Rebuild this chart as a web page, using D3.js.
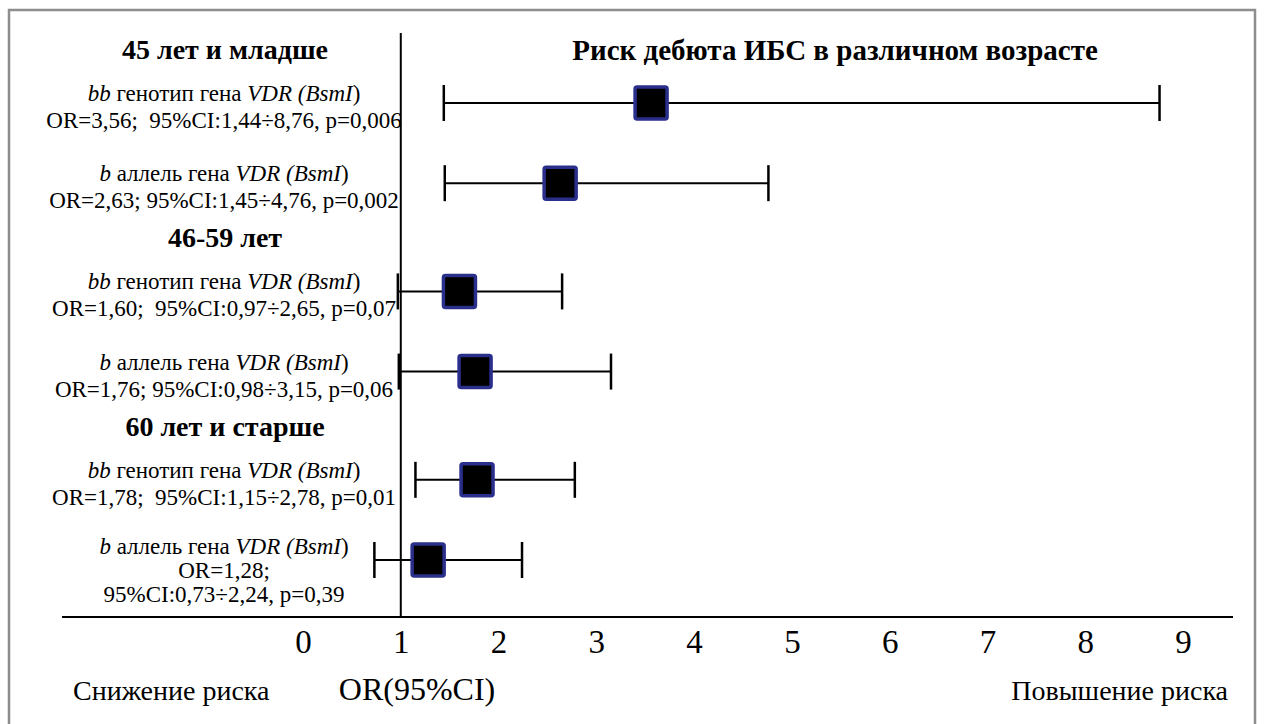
<!DOCTYPE html>
<html>
<head>
<meta charset="utf-8">
<script src="https://cdn.jsdelivr.net/npm/d3@7"></script>
<style>
  html, body { margin: 0; padding: 0; background: #fff; }
  svg { display: block; }
</style>
</head>
<body>
<svg id="chart" width="1264" height="724"></svg>
<script>
// Forest plot: risk of coronary heart disease onset by age group, VDR (BsmI)
const chartTitle = "Риск дебюта ИБС в различном возрасте";
const ageGroups = ["45 лет и младше", "46-59 лет", "60 лет и старше"];
const rowGroup = [0, 0, 1, 1, 2, 2];
const rowVariant = ["bb", "b", "bb", "b", "bb", "b"];
const rowKind = ["генотип", "аллель", "генотип", "аллель", "генотип", "аллель"];
const oddsRatio = [3.56, 2.63, 1.60, 1.76, 1.78, 1.28];
const ciLower = [1.44, 1.45, 0.97, 0.98, 1.15, 0.73];
const ciUpper = [8.76, 4.76, 2.65, 3.15, 2.78, 2.24];
const pValue = [0.006, 0.002, 0.07, 0.06, 0.01, 0.39];
const xTicks = [0, 1, 2, 3, 4, 5, 6, 7, 8, 9];
const axisNotes = ["Снижение риска", "OR(95%CI)", "Повышение риска"];

const serif = "Liberation Serif";
const svg = d3.select("#chart").attr("font-family", serif);
const comma = s => s.replace(".", ",");
const f2 = v => comma(d3.format(".2f")(v));
const fp = v => comma(String(v));

// outer frame
svg.append("rect")
  .attr("x", 9).attr("y", 10)
  .attr("width", 1246).attr("height", 740)
  .attr("fill", "none").attr("stroke", "#8d8d8d").attr("stroke-width", 2.5);

// scales
const x = d3.scaleLinear().domain([0, 9]).range([303, 1183]);
const groupGap = 0.35;
const slot = i => i + groupGap * rowGroup[i];
const y = d3.scaleLinear().domain([0, slot(oddsRatio.length - 1)]).range([103, 560]);
const axisY = 617;
const labelX = 224;

// baseline axis and OR = 1 reference line
svg.append("line")
  .attr("x1", 62).attr("x2", 1233).attr("y1", axisY).attr("y2", axisY)
  .attr("stroke", "#000").attr("stroke-width", 2);
svg.append("line")
  .attr("x1", x(1)).attr("x2", x(1)).attr("y1", 33).attr("y2", axisY)
  .attr("stroke", "#000").attr("stroke-width", 2);

// tick labels
const axis = svg.append("g")
  .attr("transform", `translate(0,${axisY})`)
  .call(d3.axisBottom(x).tickValues(xTicks).tickSize(0).tickPadding(12.5).tickFormat(d3.format("d")));
axis.attr("font-family", serif).attr("font-size", 33);
axis.select(".domain").remove();
axis.selectAll("text").attr("fill", "#000");

// title
svg.append("text")
  .attr("x", 835).attr("y", 60)
  .attr("text-anchor", "middle")
  .attr("font-size", 29).attr("font-weight", "bold")
  .text(chartTitle);

// age-group headings
ageGroups.forEach((g, gi) => {
  const first = rowGroup.indexOf(gi);
  svg.append("text")
    .attr("x", labelX + 1).attr("y", y(slot(first)) - 44)
    .attr("text-anchor", "middle")
    .attr("font-size", 28).attr("font-weight", "bold")
    .text(g);
});

// rows: label, CI whisker, OR square
const rows = oddsRatio.map((or, i) => ({
  i, or, lo: ciLower[i], hi: ciUpper[i], p: pValue[i],
  variant: rowVariant[i], kind: rowKind[i], yc: y(slot(i))
}));

rows.forEach(r => {
  const last = r.i === rows.length - 1;
  const top = last ? r.yc - 6 : r.yc - 2;
  const t = svg.append("text")
    .attr("text-anchor", "middle")
    .attr("font-size", 23)
    .style("white-space", "pre");
  const first = t.append("tspan").attr("x", labelX).attr("y", top);
  first.append("tspan").attr("font-style", "italic").text(r.variant);
  first.append("tspan").text(` ${r.kind} гена `);
  first.append("tspan").attr("font-style", "italic").text("VDR (BsmI");
  first.append("tspan").text(")");

  const orPart = `OR=${f2(r.or)};`;
  const ciPart = `95%CI:${f2(r.lo)}÷${f2(r.hi)}, p=${fp(r.p)}`;
  const sep = r.variant === "bb" ? "  " : " ";
  const lines = last ? [orPart, ciPart] : [orPart + sep + ciPart];
  const lh = last ? 24 : 27;
  lines.forEach((ln, k) => {
    t.append("tspan").attr("x", labelX).attr("y", top + lh * (k + 1)).text(ln);
  });

  const g = svg.append("g");
  g.append("line")
    .attr("x1", x(r.lo)).attr("x2", x(r.hi)).attr("y1", r.yc).attr("y2", r.yc)
    .attr("stroke", "#000").attr("stroke-width", 2);
  [r.lo, r.hi].forEach(v => {
    g.append("line")
      .attr("x1", x(v)).attr("x2", x(v)).attr("y1", r.yc - 18).attr("y2", r.yc + 18)
      .attr("stroke", "#000").attr("stroke-width", 2.5);
  });
  g.append("rect")
    .attr("x", x(r.or) - 16).attr("y", r.yc - 16)
    .attr("width", 32).attr("height", 32)
    .attr("rx", 2)
    .attr("fill", "#000").attr("stroke", "#2b2f8c").attr("stroke-width", 3.5);
});

// axis notes
svg.append("text").attr("x", 73).attr("y", 700)
  .attr("font-size", 28).text(axisNotes[0]);
svg.append("text").attr("x", 417).attr("y", 700).attr("text-anchor", "middle")
  .attr("font-size", 32).text(axisNotes[1]);
svg.append("text").attr("x", 1228).attr("y", 700).attr("text-anchor", "end")
  .attr("font-size", 28).text(axisNotes[2]);
</script>
</body>
</html>
